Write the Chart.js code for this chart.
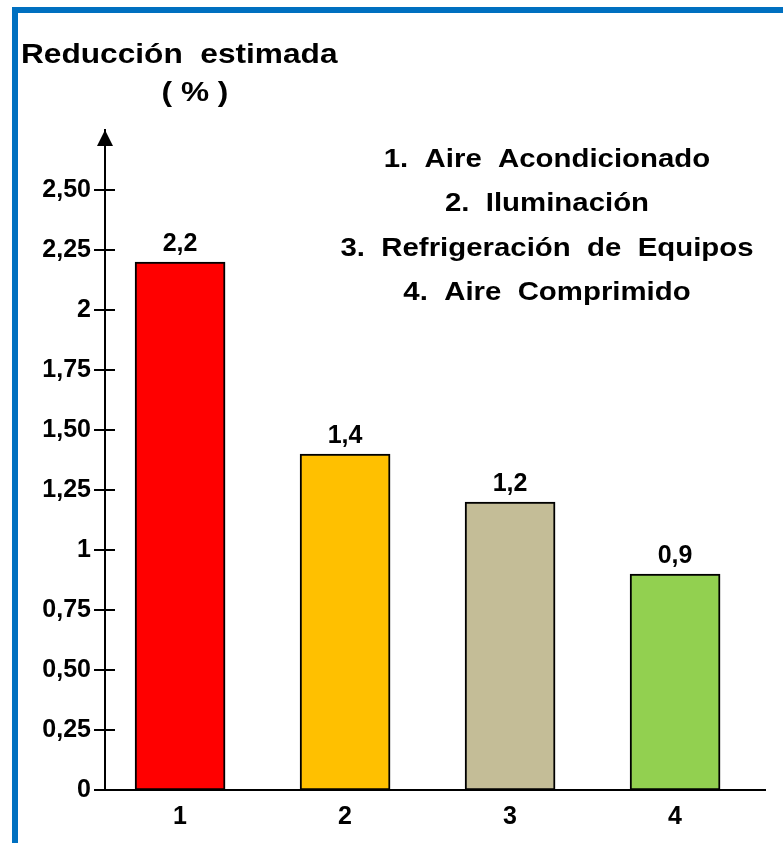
<!DOCTYPE html>
<html>
<head>
<meta charset="utf-8">
<script src="https://cdn.jsdelivr.net/npm/chart.js@4.4.0/dist/chart.umd.min.js"></script>
<style>
  html, body { margin: 0; padding: 0; background: #fff; }
  #wrap { position: relative; width: 783px; height: 843px; overflow: hidden; }
  #frame { position: absolute; left: 12px; top: 7px; width: 900px; height: 1000px;
           border-top: 6px solid #0070C0; border-left: 6px solid #0070C0; }
  canvas { position: absolute; left: 0; top: 0; }
</style>
</head>
<body>
<div id="wrap">
  <div id="frame"></div>
  <canvas id="c" width="783" height="843"></canvas>
</div>
<script>
// Estimated reduction (%) per consumption area
const categories = ['1', '2', '3', '4'];
const values = [2.2, 1.4, 1.2, 0.9];
const valueLabels = ['2,2', '1,4', '1,2', '0,9'];
const barColors = ['#FF0000', '#FFC000', '#C4BD97', '#92D050'];
const yTickValues = [0, 0.25, 0.5, 0.75, 1, 1.25, 1.5, 1.75, 2, 2.25, 2.5];
const yTickLabels = ['0', '0,25', '0,50', '0,75', '1', '1,25', '1,50', '1,75', '2', '2,25', '2,50'];
const titleLines = ['Reducción  estimada', '( % )'];
const legendLines = ['1.  Aire  Acondicionado', '2.  Iluminación', '3.  Refrigeración  de  Equipos', '4.  Aire  Comprimido'];

const FONT = '"Liberation Sans", Arial, sans-serif';

function stretchedText(ctx, text, x, y, align, sx, font) {
  ctx.save();
  ctx.font = font;
  ctx.fillStyle = '#000';
  ctx.textAlign = align;
  ctx.textBaseline = 'alphabetic';
  ctx.translate(x, y);
  ctx.scale(sx, 1);
  ctx.fillText(text, 0, 0);
  ctx.restore();
}

const decorations = {
  id: 'decorations',
  afterDraw(chart) {
    const ctx = chart.ctx;
    const ys = chart.scales.y;
    const area = chart.chartArea;
    const ax = area.left;

    // tick marks crossing the vertical axis
    ctx.save();
    ctx.strokeStyle = '#000';
    ctx.lineWidth = 2;
    ys.ticks.forEach(t => {
      const py = Math.round(ys.getPixelForValue(t.value));
      ctx.beginPath();
      ctx.moveTo(ax - 11, py);
      ctx.lineTo(t.value === 0 ? ax : ax + 10, py);
      ctx.stroke();
    });

    // arrow head on the vertical axis
    ctx.fillStyle = '#000';
    ctx.beginPath();
    ctx.moveTo(ax, area.top);
    ctx.lineTo(ax - 8, area.top + 16);
    ctx.lineTo(ax + 8, area.top + 16);
    ctx.closePath();
    ctx.fill();
    ctx.restore();

    // value labels above bars
    const meta = chart.getDatasetMeta(0);
    meta.data.forEach((bar, i) => {
      stretchedText(ctx, valueLabels[i], bar.x, bar.y - 11, 'center', 1, 'bold 25px ' + FONT);
    });

    // axis title
    stretchedText(ctx, titleLines[0], 21, 63, 'left', 1.13, 'bold 28px ' + FONT);
    stretchedText(ctx, titleLines[1], 195, 101, 'center', 1.13, 'bold 28px ' + FONT);

    // category key
    const baselines = [166.5, 211, 255.5, 300];
    legendLines.forEach((line, i) => {
      stretchedText(ctx, line, 547, baselines[i], 'center', 1.13, 'bold 26px ' + FONT);
    });
  }
};

new Chart(document.getElementById('c'), {
  type: 'bar',
  data: {
    datasets: [{
      data: categories.map((c, i) => ({ x: Number(c), y: values[i] })),
      backgroundColor: barColors,
      borderColor: '#000',
      borderWidth: 2,
      borderSkipped: false,
      barThickness: 90
    }]
  },
  options: {
    responsive: false,
    animation: false,
    devicePixelRatio: 1,
    layout: { padding: { top: 130, right: 18, left: 0, bottom: 0 } },
    plugins: { legend: { display: false }, tooltip: { enabled: false }, title: { display: false } },
    scales: {
      x: {
        type: 'linear',
        offset: false,
        min: 0.545,
        max: 4.545,
        grid: { display: false, drawTicks: false, tickLength: 0 },
        border: { display: true, color: '#000', width: 2 },
        afterBuildTicks: s => { s.ticks = categories.map(c => ({ value: Number(c) })); },
        afterFit: s => { s.height = 53; },
        ticks: {
          autoSkip: false,
          maxRotation: 0,
          padding: 12,
          color: '#000',
          font: { family: FONT, size: 25, weight: 'bold' },
          callback: v => categories[categories.indexOf(String(v))]
        }
      },
      y: {
        min: 0,
        max: 2.75,
        grid: { display: false, drawTicks: false, tickLength: 0 },
        border: { display: true, color: '#000', width: 2 },
        afterBuildTicks: s => { s.ticks = yTickValues.map(v => ({ value: v })); },
        afterFit: s => { s.width = 105; },
        ticks: {
          autoSkip: false,
          padding: 14,
          color: '#000',
          font: { family: FONT, size: 25, weight: 'bold' },
          callback: v => yTickLabels[yTickValues.indexOf(v)]
        }
      }
    }
  },
  plugins: [decorations]
});
</script>
</body>
</html>
